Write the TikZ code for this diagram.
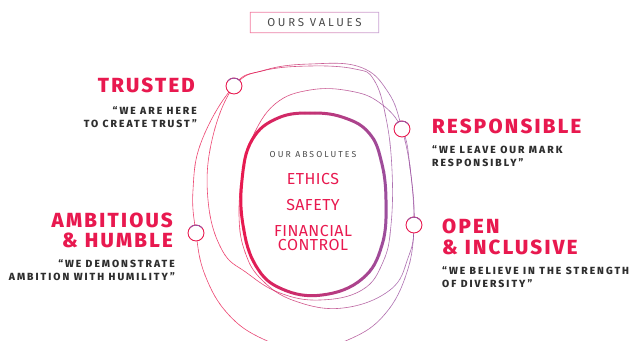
\documentclass[tikz,border=0pt]{standalone}
\usepackage{fontspec}
\setmainfont{Fira Sans}
\newfontfamily\headfont[LetterSpace=11]{Fira Sans ExtraBold}
\newfontfamily\quotefont[LetterSpace=19.5]{Fira Sans ExtraBold}
\newfontfamily\wordfont[LetterSpace=3]{Fira Sans}
\newfontfamily\capsfont[LetterSpace=24]{Fira Sans}

\definecolor{valpink}{HTML}{E8194F}
\definecolor{valpurple}{HTML}{9A4F9F}
\definecolor{valink}{HTML}{2E2E2E}
\definecolor{valgrey}{HTML}{4A4A4A}
\definecolor{framepink}{HTML}{F27A9E}
\definecolor{framepurple}{HTML}{C9A2D2}

% the loops, drawn once per colour strip
\newcommand\valueloops{%
  \draw[thinloop] plot[smooth cycle, tension=0.7] coordinates {
    (ct) (265,70) (310,64) (360,67) (388,92) (cr) (411,175) (co) (407,272)
    (385,314) (350,339) (305,350) (263,339) (228,314) (205,275) (ca)
    (193,190) (202,140)};
  \draw[thinloop] plot[smooth cycle, tension=0.7] coordinates {
    (ct) (262,71) (310,66) (355,69) (374,80) (386,118) (392,170) (391,225)
    (383,262) (362,290) (320,300) (280,293) (247,273) (222,250) (208,200)
    (212,140)};
  \draw[thinloop] plot[smooth cycle, tension=0.7] coordinates {
    (252,138) (275,104) (310,90) (350,91) (380,103) (cr) (410,167) (co)
    (408,258) (390,290) (343,308) (295,301) (262,280) (245,252) (239,215)
    (243,170)};
  \draw[thickloop] plot[smooth cycle, tension=0.7] coordinates {
    (313,113) (345,118) (369,133) (381,160) (386,200) (382,245) (362,279)
    (322,295) (282,289) (256,266) (243,225) (242,180) (252,140) (278,118)};
}

\begin{document}
\begin{tikzpicture}[
    x=1bp,
    y=-1bp,
    heading/.style={font={\headfont\fontsize{20.5}{20.5}\selectfont}, text=valpink, inner sep=0pt},
    saying/.style={font={\quotefont\fontsize{10.4}{10.4}\selectfont}, text=valink, inner sep=0pt},
    absolute/.style={font={\wordfont\fontsize{16}{14}\selectfont}, text=valpink, inner sep=0pt},
    smallcaps/.style={font={\capsfont\fontsize{8.7}{8.7}\selectfont}, text=valgrey, inner sep=0pt},
    ring/.style={circle, draw=valpink, fill=white, line width=0.9pt, minimum size=16pt, inner sep=0pt},
    thinloop/.style={line width=0.6pt, draw opacity=0.8},
    thickloop/.style={line width=3pt}
  ]
    \useasboundingbox (0,0) rectangle (630,340);

    % title
    \node[font={\capsfont\fontsize{11.5}{11.5}\selectfont}, text=valgrey,
      minimum width=129bp, minimum height=21bp, inner sep=0pt] (title) at (314.5,22.5) {OURS VALUES};
    \shade[left color=framepink, right color=framepurple, even odd rule]
      (title.south west) rectangle (title.north east)
      ([shift={(0.9pt,0.9pt)}]title.south west) rectangle ([shift={(-0.9pt,-0.9pt)}]title.north east);

    % where the rings sit
    \coordinate (ct) at (234,86);
    \coordinate (cr) at (402,129);
    \coordinate (co) at (414,225);
    \coordinate (ca) at (196,233);

    % loops, pink on the left turning purple on the right
    \foreach \i in {0,...,47} {
      \pgfmathsetmacro\xa{185+5*\i}
      \pgfmathtruncatemacro\mix{max(0,min(100,(\xa+2.5-240)/150*100))}
      \colorlet{stripcol}{valpurple!\mix!valpink}
      \begin{scope}[color=stripcol]
        \clip ({\xa-0.2},-5) rectangle ({\xa+5.2},350);
        \valueloops
      \end{scope}
    }

    % rings
    \foreach \c/\n in {ct/trusted, cr/responsible, co/open, ca/ambitious} {
      \node[ring] (\n ring) at (\c) {};
      \draw[valpurple, line width=0.9pt] ([shift={(40:8pt)}]\c) arc[start angle=40, end angle=140, radius=8pt];
    }

    % values
    \node[heading, anchor=base east] (trusted) at (195,92) {TRUSTED};
    \node[saying, anchor=base east] (trusted1) at (197,114) {“WE ARE HERE};
    \node[saying, anchor=base east] (trusted2) at (197,127) {TO CREATE TRUST”};

    \node[heading, anchor=base west] (responsible) at (432,133) {RESPONSIBLE};
    \node[saying, anchor=base west] (responsible1) at (432,153) {“WE LEAVE OUR MARK};
    \node[saying, anchor=base west] (responsible2) at (432,166) {RESPONSIBLY”};

    \node[heading, anchor=base east] (ambitious) at (173,227) {AMBITIOUS};
    \node[heading, anchor=base east] (humble) at (173,247) {\& HUMBLE};
    \node[saying, anchor=base east] (ambitious1) at (175,267) {“WE DEMONSTRATE};
    \node[saying, anchor=base east] (ambitious2) at (175,280) {AMBITION WITH HUMILITY”};

    \node[heading, anchor=base west] (open) at (442,233) {OPEN};
    \node[heading, anchor=base west] (inclusive) at (442,254) {\& INCLUSIVE};
    \node[saying, anchor=base west] (open1) at (442,274) {“WE BELIEVE IN THE STRENGTH};
    \node[saying, anchor=base west] (open2) at (442,287) {OF DIVERSITY”};

    % absolutes
    \node[smallcaps, anchor=base] (absolutes) at (313,157) {OUR ABSOLUTES};
    \node[absolute, anchor=base] (ethics) at (313,184) {ETHICS};
    \node[absolute, anchor=base] (safety) at (313,210) {SAFETY};
    \node[absolute, align=center, anchor=north] (financial) at (313,225.5) {FINANCIAL\\CONTROL};
  \end{tikzpicture}
\end{document}
